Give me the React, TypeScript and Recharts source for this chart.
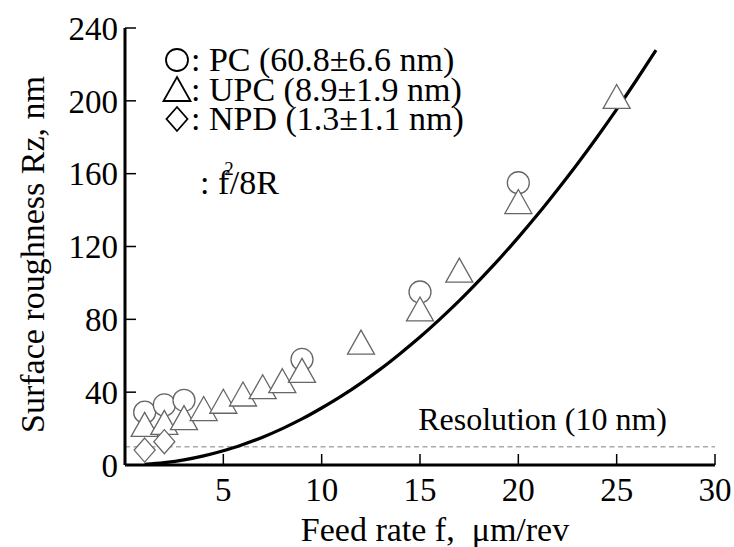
import {
    ComposedChart,
    Scatter,
    Line,
    XAxis,
    YAxis,
    ReferenceLine,
    Legend,
} from "recharts"

// feed rate (um/rev) and Rz (nm)
const pcFeed = [1, 2, 3, 9, 15, 20]
const pcRz = [29, 33, 35.5, 58, 95, 155]

const upcFeed = [1, 2, 3, 4, 5, 6, 7, 8, 9, 12, 15, 17, 20, 25]
const upcRz = [22.3, 23.4, 26, 31, 35, 39, 43, 46.3, 52, 67.5, 85.7, 107, 144.7, 202.4]

const npdFeed = [1, 2]
const npdRz = [8.2, 12.8]

// theoretical curve f^2/8R as drawn
const curveFeed = [1, 2, 3, 4, 5, 6, 7, 8, 9, 10, 11, 12, 13, 14, 15, 16, 17, 18, 19, 20, 21, 22, 23, 24, 25, 26, 27]
const curveRz = [0.3, 1.3, 2.8, 5, 7.8, 11.3, 15.3, 20, 25.3, 31.3, 37.8, 45, 52.8, 61.3, 70.3, 80, 90.3, 101.3, 112.8, 125, 137.8, 151.3, 165.3, 180, 195.3, 211.3, 227.8]

const xTicks = [5, 10, 15, 20, 25, 30]
const yTicks = [0, 40, 80, 120, 160, 200, 240]
const resolution = 10

const zip = (f: number[], rz: number[]) => f.map((v, i) => ({ f: v, rz: rz[i] }))

const FONT = "'Liberation Serif', 'Times New Roman', serif"
const MARK = "#666"
const Y_MARGIN = 7
const X_MARGIN = 13
const TICK_LEN = 11

const Circle = ({ cx, cy, stroke = MARK, sw = 1.3 }: any) => (
    <circle cx={cx} cy={cy} r={11} fill="#fff" stroke={stroke} strokeWidth={sw} />
)
const Triangle = ({ cx, cy, stroke = MARK, sw = 1.3 }: any) => (
    <path
        d={`M${cx},${cy - 12} L${cx + 13.5},${cy + 12} L${cx - 13.5},${cy + 12} Z`}
        fill="#fff"
        stroke={stroke}
        strokeWidth={sw}
    />
)
const Diamond = ({ cx, cy, stroke = MARK, sw = 1.3 }: any) => (
    <path
        d={`M${cx},${cy - 12} L${cx + 10.5},${cy} L${cx},${cy + 12} L${cx - 10.5},${cy} Z`}
        fill="#fff"
        stroke={stroke}
        strokeWidth={sw}
    />
)

const YTick = ({ x, y, payload }: any) => (
    <g>
        {payload.value !== 0 && (
            <line x1={x + Y_MARGIN} x2={x + Y_MARGIN + TICK_LEN} y1={y} y2={y} stroke="#000" strokeWidth={1.5} />
        )}
        <text x={x} y={y} dy="0.355em" textAnchor="end" fontFamily={FONT} fontSize={33} fill="#000">
            {payload.value}
        </text>
    </g>
)

const XTick = ({ x, y, payload }: any) => (
    <g>
        <line x1={x} x2={x} y1={y - X_MARGIN} y2={y - X_MARGIN - TICK_LEN} stroke="#000" strokeWidth={1.5} />
        <text x={x} y={y} dy="0.71em" textAnchor="middle" fontFamily={FONT} fontSize={33} fill="#000">
            {payload.value}
        </text>
    </g>
)

const legendRows = [
    { name: "PC", text: ": PC (60.8±6.6 nm)", Icon: Circle },
    { name: "UPC", text: ": UPC (8.9±1.9 nm)", Icon: Triangle },
    { name: "NPD", text: ": NPD (1.3±1.1 nm)", Icon: Diamond },
]

function LegendBox() {
    return (
        <div style={{ fontFamily: FONT, fontSize: 34, lineHeight: "29.5px", color: "#000" }}>
            {legendRows.map(({ name, text, Icon }) => (
                <div key={name} style={{ display: "flex", alignItems: "center", height: 29.5 }}>
                    <svg width={28} height={30} style={{ overflow: "visible" }}>
                        <Icon cx={14} cy={15} stroke="#000" sw={1.8} />
                    </svg>
                    <span style={{ whiteSpace: "pre" }}>{text}</span>
                </div>
            ))}
            <div style={{ marginTop: 34.5, paddingLeft: 37, height: 29.5, whiteSpace: "pre" }}>
                {": f"}
                <span style={{ position: "relative", top: -19, marginLeft: -5, marginRight: -4, fontSize: 19 }}>2</span>
                {"/8R"}
            </div>
        </div>
    )
}

export default function App() {
    return (
        <div style={{ position: "absolute", left: 0, top: 0 }}>
            <ComposedChart
                width={734}
                height={547}
                margin={{ top: 28, right: 19, bottom: 0, left: 0 }}
            >
                <XAxis
                    type="number"
                    dataKey="f"
                    domain={[0, 30]}
                    ticks={xTicks}
                    height={82}
                    tickSize={0}
                    tickMargin={X_MARGIN}
                    tickLine={false}
                    tick={XTick}
                    axisLine={{ stroke: "#000", strokeWidth: 3 }}
                    label={({ viewBox }: any) => (
                        <text
                            x={viewBox.x + viewBox.width / 2 + 15}
                            y={viewBox.y + 76}
                            textAnchor="middle"
                            fontFamily={FONT}
                            fontSize={34}
                            fill="#000"
                            style={{ whiteSpace: "pre" }}
                        >
                            {"Feed rate f,  μm/rev"}
                        </text>
                    )}
                />
                <YAxis
                    type="number"
                    dataKey="rz"
                    domain={[0, 240]}
                    ticks={yTicks}
                    width={125}
                    tickSize={0}
                    tickMargin={Y_MARGIN}
                    tickLine={false}
                    tick={YTick}
                    axisLine={{ stroke: "#000", strokeWidth: 3 }}
                    label={({ viewBox }: any) => {
                        const cx = viewBox.x + 44
                        const cy = viewBox.y + viewBox.height / 2 + 8
                        return (
                            <text
                                x={cx}
                                y={cy}
                                transform={`rotate(-90, ${cx}, ${cy})`}
                                textAnchor="middle"
                                fontFamily={FONT}
                                fontSize={34}
                                fill="#000"
                            >
                                Surface roughness Rz, nm
                            </text>
                        )
                    }}
                />
                <ReferenceLine
                    y={resolution}
                    stroke="#aaa"
                    strokeWidth={1.5}
                    strokeDasharray="5 3.5"
                    label={({ viewBox }: any) => (
                        <text
                            x={viewBox.x + viewBox.width - 48}
                            y={viewBox.y - 17}
                            textAnchor="end"
                            fontFamily={FONT}
                            fontSize={32}
                            fill="#000"
                        >
                            Resolution (10 nm)
                        </text>
                    )}
                />
                <Scatter name="PC" data={zip(pcFeed, pcRz)} shape={Circle} isAnimationActive={false} />
                <Scatter name="UPC" data={zip(upcFeed, upcRz)} shape={Triangle} isAnimationActive={false} />
                <Scatter name="NPD" data={zip(npdFeed, npdRz)} shape={Diamond} isAnimationActive={false} />
                <Line
                    name="f2/8R"
                    data={zip(curveFeed, curveRz)}
                    dataKey="rz"
                    type="monotone"
                    stroke="#000"
                    strokeWidth={3.2}
                    dot={false}
                    activeDot={false}
                    isAnimationActive={false}
                />
                <Legend
                    layout="vertical"
                    align="center"
                    verticalAlign="middle"
                    content={() => <LegendBox />}
                    wrapperStyle={{ left: 163, top: 45, width: 420, height: "auto" }}
                />
            </ComposedChart>
        </div>
    )
}
